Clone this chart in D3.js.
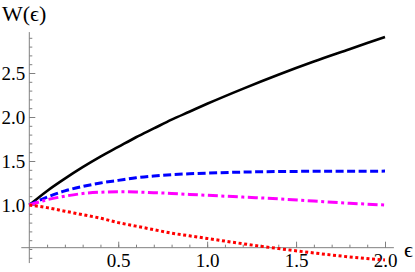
<!DOCTYPE html>
<html>
<head>
<meta charset="utf-8">
<script src="https://cdn.jsdelivr.net/npm/d3@7"></script>
<style>
  html, body { margin: 0; padding: 0; background: #fff; }
  svg { display: block; font-family: "Liberation Serif", "DejaVu Serif", serif; }
</style>
</head>
<body>
<div id="chart"></div>
<script>
// values
const eps = [0, 0.1, 0.2, 0.3, 0.4, 0.5, 0.6, 0.7, 0.8, 0.9, 1.0, 1.2, 1.4, 1.6, 1.8, 2.0];
const wBlack = [1.00, 1.16, 1.30, 1.43, 1.55, 1.66, 1.77, 1.87, 1.97, 2.06, 2.15, 2.32, 2.48, 2.63, 2.77, 2.91];
const wBlue = [1.00, 1.09, 1.16, 1.21, 1.25, 1.28, 1.31, 1.33, 1.345, 1.355, 1.362, 1.374, 1.38, 1.383, 1.384, 1.385];
const wMagenta = [1.00, 1.06, 1.10, 1.13, 1.145, 1.15, 1.148, 1.14, 1.132, 1.12, 1.11, 1.09, 1.07, 1.045, 1.02, 1.00];
const wRed = [1.00, 0.97, 0.93, 0.89, 0.85, 0.80, 0.76, 0.72, 0.68, 0.65, 0.62, 0.56, 0.505, 0.455, 0.41, 0.375];

const xMajor = [0.5, 1.0, 1.5, 2.0];
const yMajor = [1.0, 1.5, 2.0, 2.5];
const xMinor = d3.range(1, 21).map(d => d / 10);
const yMinor = d3.range(4, 30).map(d => d / 10);

const width = 415, height = 272;

const x = d3.scaleLinear().domain([0, 2]).range([29.3, 385]);
const y = d3.scaleLinear().domain([1, 2.5]).range([205, 73]);

const svg = d3.select("#chart")
  .append("svg")
  .attr("width", width)
  .attr("height", height);

const axisColor = "#808080";
const xAxisAt = 0.515;

// axis lines
svg.append("line")
  .attr("x1", x(-0.045)).attr("x2", x(2.05))
  .attr("y1", y(xAxisAt)).attr("y2", y(xAxisAt))
  .attr("stroke", axisColor).attr("stroke-width", 1);
svg.append("line")
  .attr("x1", x(0)).attr("x2", x(0))
  .attr("y1", y(0.34)).attr("y2", y(2.965))
  .attr("stroke", axisColor).attr("stroke-width", 1);

// x ticks (pointing up)
const gx = svg.append("g").attr("transform", `translate(0,${y(xAxisAt)})`);
gx.append("g")
  .call(d3.axisBottom(x).tickValues(xMinor).tickSize(-3).tickFormat(""))
  .call(g => g.select(".domain").remove());
gx.append("g")
  .call(d3.axisBottom(x).tickValues(xMajor).tickSize(-6).tickPadding(6).tickFormat(d3.format(".1f")))
  .call(g => g.select(".domain").remove());

// y ticks (pointing right)
const gy = svg.append("g").attr("transform", `translate(${x(0)},0)`);
gy.append("g")
  .call(d3.axisLeft(y).tickValues(yMinor).tickSize(-3).tickFormat(""))
  .call(g => g.select(".domain").remove());
gy.append("g")
  .call(d3.axisLeft(y).tickValues(yMajor).tickSize(-6).tickPadding(4).tickFormat(d3.format(".1f")))
  .call(g => g.select(".domain").remove());

svg.selectAll(".tick line").attr("stroke", axisColor);
svg.selectAll(".tick text")
  .attr("fill", "#000")
  .style("font-family", "'Liberation Serif', serif")
  .style("font-size", "19px");

// axis labels
svg.append("text")
  .attr("x", 2).attr("y", 21)
  .style("font-size", "22px")
  .text("W(ϵ)");
svg.append("text")
  .attr("x", 404).attr("y", 257)
  .style("font-size", "22px")
  .text("ϵ");

// curves
const series = [
  { values: wBlack, color: "#000000", dash: null, width: 2.6 },
  { values: wBlue, color: "#0000ff", dash: "8,3.5", width: 3 },
  { values: wMagenta, color: "#ff00ff", dash: "10,3.5,3,3.5", width: 3 },
  { values: wRed, color: "#ff0000", dash: "3,2.6", width: 3 }
];

const line = d3.line()
  .x(d => x(d[0]))
  .y(d => y(d[1]))
  .curve(d3.curveMonotoneX);

series.forEach(s => {
  svg.append("path")
    .datum(eps.map((e, i) => [e, s.values[i]]))
    .attr("d", line)
    .attr("fill", "none")
    .attr("stroke", s.color)
    .attr("stroke-width", s.width)
    .attr("stroke-dasharray", s.dash);
});
</script>
</body>
</html>
